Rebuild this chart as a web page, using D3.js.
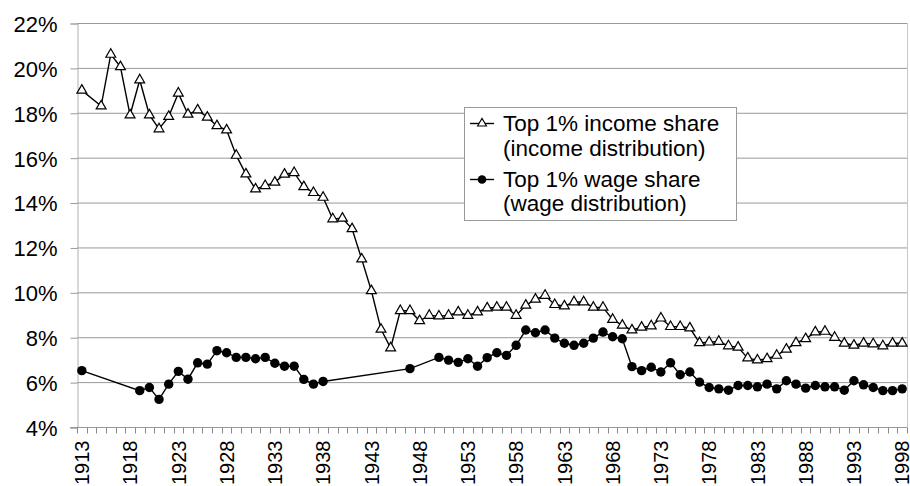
<!DOCTYPE html>
<html>
<head>
<meta charset="utf-8">
<script src="https://cdn.jsdelivr.net/npm/d3@7"></script>
<style>
  body { margin: 0; background: #fff; }
  text { font-family: "Liberation Sans", Arial, sans-serif; fill: #000; }
</style>
</head>
<body>
<div id="chart"></div>
<script>
// years 1913..1998
const years = d3.range(1913, 1999)

// top 1% income share (income distribution), % ; null = no observation
const incomeShare = [
  19.0, null, 18.3, 20.6, 20.05, 17.9, 19.46, 17.9, 17.28, 17.83,
  18.87, 17.93, 18.12, 17.8, 17.42, 17.23, 16.1, 15.27, 14.6, 14.75,
  14.9, 15.26, 15.33, 14.7, 14.44, 14.23, 13.27, 13.3, 12.83, 11.48,
  10.07, 8.35, 7.52, 9.18, 9.18, 8.73, 8.97, 8.94, 8.97, 9.12,
  8.97, 9.12, 9.30, 9.33, 9.33, 8.97, 9.42, 9.69, 9.86, 9.45,
  9.39, 9.57, 9.57, 9.33, 9.33, 8.79, 8.53, 8.32, 8.44, 8.50,
  8.85, 8.47, 8.47, 8.41, 7.75, 7.78, 7.81, 7.61, 7.55, 7.07,
  6.98, 7.04, 7.19, 7.46, 7.75, 7.93, 8.23, 8.26, 7.99, 7.73,
  7.64, 7.73, 7.70, 7.61, 7.73, 7.73
]

// top 1% wage share (wage distribution), %
const wageShare = [
  6.51, null, null, null, null, null, 5.62, 5.76, 5.23, 5.91,
  6.48, 6.13, 6.86, 6.80, 7.40, 7.31, 7.10, 7.10, 7.04, 7.10,
  6.84, 6.71, 6.71, 6.12, 5.91, 6.03, null, null, null, null,
  null, null, null, null, 6.60, null, null, 7.10, 6.98, 6.88,
  7.04, 6.71, 7.09, 7.31, 7.19, 7.64, 8.32, 8.20, 8.32, 7.96,
  7.73, 7.64, 7.73, 7.96, 8.23, 8.02, 7.93, 6.69, 6.51, 6.66,
  6.45, 6.86, 6.33, 6.45, 6.00, 5.76, 5.70, 5.64, 5.85, 5.85,
  5.79, 5.91, 5.70, 6.06, 5.91, 5.73, 5.85, 5.79, 5.79, 5.64,
  6.06, 5.88, 5.76, 5.62, 5.62, 5.70
]

const yTicks = [4, 6, 8, 10, 12, 14, 16, 18, 20, 22]
const xLabels = years.filter(y => (y - 1913) % 5 === 0)

const legendLabels = [
  ["Top 1% income share", "(income distribution)"],
  ["Top 1% wage share", "(wage distribution)"]
]

const totalWidth = 910
const totalHeight = 486
const plot = {left: 77, right: 907, top: 23, bottom: 427}

const svg = d3.select("#chart")
  .append("svg")
  .attr("width", totalWidth)
  .attr("height", totalHeight)

// scales
const x = d3.scaleBand()
  .domain(years)
  .range([plot.left, plot.right])
  .padding(0)
const cx = yr => x(yr) + x.bandwidth() / 2

const y = d3.scaleLinear()
  .domain([4, 22])
  .range([plot.bottom, plot.top])

// gridlines
svg.append("g")
  .selectAll("line")
  .data(yTicks.filter(t => t > 4))
  .join("line")
  .attr("x1", plot.left)
  .attr("x2", plot.right)
  .attr("y1", d => y(d) + 0.5)
  .attr("y2", d => y(d) + 0.5)
  .attr("stroke", "#999")
  .attr("stroke-width", 1)

// right border of plot area
svg.append("line")
  .attr("x1", plot.right + 0.5).attr("x2", plot.right + 0.5)
  .attr("y1", plot.top).attr("y2", plot.bottom)
  .attr("stroke", "#c8c8c8")

// y axis
const yAxis = svg.append("g")
  .attr("transform", "translate(" + (plot.left + 0.5) + ",0.5)")
  .call(d3.axisLeft(y).tickValues(yTicks).tickSize(7).tickPadding(13)
    .tickFormat(d => d + "%"))
yAxis.select(".domain").attr("stroke", "#b0b0b0")
yAxis.selectAll(".tick line").attr("stroke", "#999")
yAxis.selectAll("text")
  .style("font-family", "'Liberation Sans', Arial, sans-serif")
  .style("font-size", "22px")
  .attr("dy", "0.36em")

// x axis: ticks at category boundaries
const xAxis = svg.append("g")
  .attr("transform", "translate(0," + (plot.bottom + 0.5) + ")")
xAxis.append("line")
  .attr("x1", plot.left - 7).attr("x2", plot.right)
  .attr("stroke", "#999")
xAxis.selectAll("line.tk")
  .data(years.concat([1999]))
  .join("line")
  .attr("class", "tk")
  .attr("x1", d => Math.round(d === 1999 ? plot.right : x(d)) + 0.5)
  .attr("x2", d => Math.round(d === 1999 ? plot.right : x(d)) + 0.5)
  .attr("y1", 0)
  .attr("y2", 6)
  .attr("stroke", "#888")
xAxis.selectAll("text")
  .data(xLabels)
  .join("text")
  .attr("transform", d => "translate(" + cx(d) + ",13) rotate(-90)")
  .attr("text-anchor", "end")
  .attr("dy", "0.36em")
  .style("font-size", "20px")
  .text(d => d)

// series
const incomePts = years.map((yr, i) => ({yr: yr, v: incomeShare[i]})).filter(d => d.v != null)
const wagePts = years.map((yr, i) => ({yr: yr, v: wageShare[i]})).filter(d => d.v != null)

const line = d3.line()
  .x(d => cx(d.yr))
  .y(d => y(d.v))

svg.append("path")
  .datum(wagePts)
  .attr("fill", "none")
  .attr("stroke", "#000")
  .attr("stroke-width", 1.4)
  .attr("d", line)

svg.append("path")
  .datum(incomePts)
  .attr("fill", "none")
  .attr("stroke", "#000")
  .attr("stroke-width", 1.4)
  .attr("d", line)

svg.append("g")
  .selectAll("circle")
  .data(wagePts)
  .join("circle")
  .attr("cx", d => cx(d.yr))
  .attr("cy", d => y(d.v))
  .attr("r", 4.7)
  .attr("fill", "#000")

const tri = d3.symbol().type(d3.symbolTriangle).size(42)
svg.append("g")
  .selectAll("path")
  .data(incomePts)
  .join("path")
  .attr("transform", d => "translate(" + cx(d.yr) + "," + y(d.v) + ")")
  .attr("d", tri)
  .attr("fill", "#fff")
  .attr("stroke", "#000")
  .attr("stroke-width", 1.2)

// legend
const lg = svg.append("g")
lg.append("rect")
  .attr("x", 464.5).attr("y", 107.5)
  .attr("width", 272).attr("height", 113)
  .attr("fill", "#fff")
  .attr("stroke", "#999")

const legendRows = [
  {y: 123.5, base: 131, kind: "tri"},
  {y: 179.5, base: 186.5, kind: "dot"}
]
legendRows.forEach(function(r, i) {
  lg.append("line")
    .attr("x1", 470).attr("x2", 494)
    .attr("y1", r.y).attr("y2", r.y)
    .attr("stroke", "#000").attr("stroke-width", 1.4)
  if (r.kind === "tri") {
    lg.append("path")
      .attr("transform", "translate(482," + r.y + ")")
      .attr("d", d3.symbol().type(d3.symbolTriangle).size(34))
      .attr("fill", "#fff").attr("stroke", "#000").attr("stroke-width", 1.1)
  } else {
    lg.append("circle")
      .attr("cx", 482).attr("cy", r.y).attr("r", 4.3).attr("fill", "#000")
  }
  legendLabels[i].forEach(function(t, j) {
    lg.append("text")
      .attr("x", 503)
      .attr("y", r.base + j * 24.5)
      .style("font-size", "22.5px")
      .text(t)
  })
})
</script>
</body>
</html>
